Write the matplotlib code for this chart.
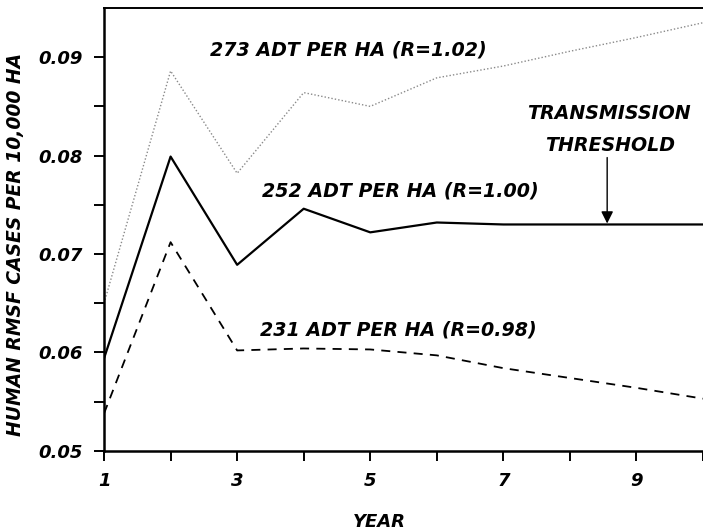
import matplotlib.pyplot as plt

# --- data ---
years = [1, 2, 3, 4, 5, 6, 7, 8, 9, 10]
r_102 = [0.0650, 0.0886, 0.0782, 0.0864, 0.0850, 0.0879, 0.0891, 0.0906, 0.0920, 0.0935]
r_100 = [0.0594, 0.0799, 0.0689, 0.0746, 0.0722, 0.0732, 0.0730, 0.0730, 0.0730, 0.0730]
r_098 = [0.0538, 0.0712, 0.0602, 0.0604, 0.0603, 0.0597, 0.0584, 0.0574, 0.0564, 0.0553]

x_ticks = [1, 2, 3, 4, 5, 6, 7, 8, 9, 10]
x_ticklabels = ['1', '', '3', '', '5', '', '7', '', '9', '']
y_major = [0.05, 0.06, 0.07, 0.08, 0.09]
y_minor = [0.055, 0.065, 0.075, 0.085]

font = dict(family='DejaVu Sans', weight='bold', style='italic')

fig = plt.figure(figsize=(7.03, 5.31), dpi=100)
ax = fig.add_axes([0.148, 0.151, 0.852, 0.834])

ax.plot(years, r_102, color='#8a8a8a', lw=1.0, linestyle=(0, (1, 1.5)))
ax.plot(years, r_100, color='black', lw=1.6)
ax.plot(years, r_098, color='black', lw=1.3, linestyle=(0, (5, 4)))

ax.set_xlim(1, 10)
ax.set_ylim(0.05, 0.095)

ax.set_xticks(x_ticks)
ax.set_xticklabels(x_ticklabels, fontdict=dict(size=13, **font))
ax.set_yticks(y_major)
ax.set_yticklabels(['%.2f' % v for v in y_major], fontdict=dict(size=13, **font))
ax.set_yticks(y_minor, minor=True)

ax.tick_params(axis='both', which='both', direction='out', length=7, width=1.4)
ax.tick_params(axis='x', pad=8)
ax.tick_params(axis='y', pad=8)

for side in ['left', 'bottom']:
    ax.spines[side].set_linewidth(1.8)
ax.spines['top'].set_linewidth(1.4)
ax.spines['right'].set_visible(False)

ax.set_xlabel('YEAR', fontsize=13, **font)
ax.set_ylabel('HUMAN RMSF CASES PER 10,000 HA', fontsize=13.5, **font)
ax.xaxis.set_label_coords(0.46, -0.14)
ax.yaxis.set_label_coords(-0.132, 0.465)

# curve labels
ax.text(2.59, 0.0907, '273 ADT PER HA (R=1.02)', fontsize=13.7, va='center', ha='left', **font)
ax.text(3.38, 0.0764, '252 ADT PER HA (R=1.00)', fontsize=13.7, va='center', ha='left', **font)
ax.text(3.35, 0.0623, '231 ADT PER HA (R=0.98)', fontsize=13.7, va='center', ha='left', **font)

# threshold annotation
ax.text(8.59, 0.0843, 'TRANSMISSION', fontsize=13.7, ha='center', va='center', **font)
ax.text(8.6, 0.0810, 'THRESHOLD', fontsize=13.7, ha='center', va='center', **font)
ax.annotate('', xy=(8.56, 0.0731), xytext=(8.56, 0.0798),
            arrowprops=dict(arrowstyle='-|>', color='black', lw=1.0,
                            mutation_scale=18, shrinkA=0, shrinkB=0))

fig.savefig('out.png', dpi=100)
